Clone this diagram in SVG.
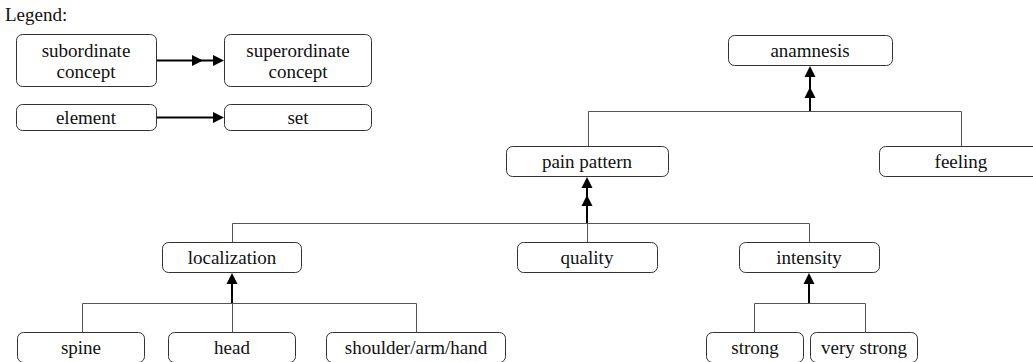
<svg xmlns="http://www.w3.org/2000/svg" width="1033" height="362" viewBox="0 0 1033 362">
<style>
.box{fill:#fff;stroke:#333;stroke-width:1}
.tree{fill:none;stroke:#555;stroke-width:1}
.arr{fill:none;stroke:#000;stroke-width:2}
.head{fill:#000;stroke:none}
</style>
<defs>
<path id="ah" d="M0,0 L-5.5,11 L5.5,11 Z" class="head"/>
<path id="ahr" d="M0,0 L-11,-5.5 L-11,5.5 Z" class="head"/>
</defs>
<rect width="1033" height="362" fill="#fff"/>
<g font-family="Liberation Serif, Times New Roman, serif" font-size="19" fill="#111">
<text x="5" y="21">Legend:</text>
<g text-anchor="middle">
<g id="legend-sub"><rect class="box" x="16.5" y="34.5" width="140" height="52" rx="6"/><text x="86" y="57">subordinate</text><text x="86" y="78">concept</text></g>
<g id="legend-super"><rect class="box" x="224.5" y="34.5" width="147" height="52" rx="6"/><text x="298" y="57">superordinate</text><text x="298" y="78">concept</text></g>
<g id="legend-element"><rect class="box" x="16.5" y="104.5" width="140" height="26" rx="6"/><text x="86" y="124">element</text></g>
<g id="legend-set"><rect class="box" x="224.5" y="104.5" width="147" height="26" rx="6"/><text x="298" y="124">set</text></g>
<g id="anamnesis"><rect class="box" x="728.5" y="35.5" width="164" height="30" rx="6"/><text x="810" y="57">anamnesis</text></g>
<g id="pain-pattern"><rect class="box" x="506.5" y="146.5" width="162" height="30" rx="6"/><text x="587" y="168">pain pattern</text></g>
<g id="feeling"><rect class="box" x="879.5" y="146.5" width="164" height="30" rx="6"/><text x="961" y="168">feeling</text></g>
<g id="localization"><rect class="box" x="162.5" y="242.5" width="139" height="30" rx="6"/><text x="232" y="264">localization</text></g>
<g id="quality"><rect class="box" x="517.5" y="242.5" width="140" height="30" rx="6"/><text x="587" y="264">quality</text></g>
<g id="intensity"><rect class="box" x="739.5" y="242.5" width="140" height="30" rx="6"/><text x="809" y="264">intensity</text></g>
<g id="spine"><rect class="box" x="17.5" y="332.5" width="127" height="30" rx="6"/><text x="81" y="354">spine</text></g>
<g id="head"><rect class="box" x="168.5" y="332.5" width="127" height="30" rx="6"/><text x="232" y="354">head</text></g>
<g id="shoulder"><rect class="box" x="326.5" y="332.5" width="179" height="30" rx="6"/><text x="416" y="354">shoulder/arm/hand</text></g>
<g id="strong"><rect class="box" x="706.5" y="332.5" width="97" height="30" rx="6"/><text x="755" y="354">strong</text></g>
<g id="very-strong"><rect class="box" x="810.5" y="332.5" width="107" height="30" rx="6"/><text x="864" y="354">very strong</text></g>
</g>
</g>
<g id="connectors">
<path class="arr" d="M157,60.5 H214"/>
<use href="#ahr" x="203" y="60.5"/>
<use href="#ahr" x="224" y="60.5"/>
<path class="arr" d="M157,117.5 H214"/>
<use href="#ahr" x="224" y="117.5"/>
<path class="tree" d="M588.5,146 V111.5 H961.5 V146"/>
<path class="arr" d="M810,111 V75"/>
<use href="#ah" x="810" y="66"/>
<use href="#ah" x="810" y="87"/>
<path class="tree" d="M232.5,242 V223.5 H809.5 V242 M587.5,242 V223"/>
<path class="arr" d="M587,223 V186"/>
<use href="#ah" x="587" y="177"/>
<use href="#ah" x="587" y="195"/>
<path class="tree" d="M82.5,332 V303.5 H416.5 V332 M232.5,332 V303"/>
<path class="arr" d="M232,303 V282"/>
<use href="#ah" x="232" y="273"/>
<path class="tree" d="M754.5,333 V303.5 H865.5 V333"/>
<path class="arr" d="M809,303 V282"/>
<use href="#ah" x="809" y="273"/>
</g>
</svg>
